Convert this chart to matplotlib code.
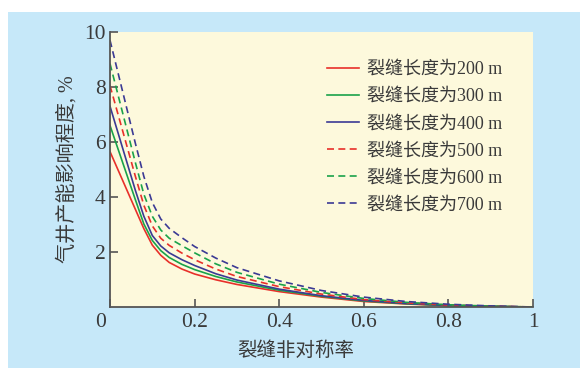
import matplotlib
matplotlib.use("Agg")
import matplotlib.pyplot as plt
import matplotlib.transforms as mtransforms
from matplotlib.patches import Rectangle

# fracture asymmetry ratio
x = [0, 0.02, 0.04, 0.06, 0.08, 0.10, 0.12, 0.14, 0.17, 0.20, 0.25, 0.30,
     0.40, 0.50, 0.60, 0.70, 0.80, 0.90, 1.00]

# gas well productivity impact, %
y200 = [5.65, 4.95, 4.25, 3.55, 2.85, 2.25, 1.88, 1.62, 1.38, 1.2, 0.99, 0.82,
        0.56, 0.36, 0.2, 0.11, 0.05, 0.02, 0.0]
y300 = [6.6, 5.7, 4.8, 3.9, 3.02, 2.42, 2.05, 1.8, 1.55, 1.36, 1.11, 0.91,
        0.61, 0.39, 0.22, 0.12, 0.05, 0.02, 0.0]
y400 = [7.3, 6.28, 5.26, 4.24, 3.3, 2.6, 2.22, 1.97, 1.72, 1.51, 1.21, 0.98,
        0.65, 0.41, 0.24, 0.13, 0.06, 0.02, 0.0]
y500 = [8.05, 6.95, 5.85, 4.75, 3.7, 2.95, 2.5, 2.24, 1.96, 1.72, 1.38, 1.11,
        0.74, 0.47, 0.27, 0.15, 0.07, 0.03, 0.0]
y600 = [8.85, 7.65, 6.45, 5.25, 4.1, 3.3, 2.8, 2.5, 2.23, 1.97, 1.57, 1.26,
        0.83, 0.53, 0.31, 0.17, 0.08, 0.03, 0.0]
y700 = [9.7, 8.45, 7.2, 5.95, 4.75, 3.8, 3.2, 2.86, 2.52, 2.2, 1.78, 1.43,
        0.95, 0.60, 0.36, 0.20, 0.10, 0.04, 0.0]

labels = ["裂缝长度为200 m", "裂缝长度为300 m", "裂缝长度为400 m",
          "裂缝长度为500 m", "裂缝长度为600 m", "裂缝长度为700 m"]
series = [y200, y300, y400, y500, y600, y700]
colors = ["#e8302a", "#1aa24a", "#3b3a94", "#e8302a", "#1aa24a", "#3b3a94"]
dashed = [False, False, False, True, True, True]

xticks = [0, 0.2, 0.4, 0.6, 0.8, 1]
xticklabels = ["0", "0.2", "0.4", "0.6", "0.8", "1"]
yticks = [2, 4, 6, 8, 10]

plt.rcParams['font.family'] = ['Liberation Serif', 'Noto Sans CJK SC']
text_color = "#3a3a3a"

fig = plt.figure(figsize=(5.8, 3.68), dpi=100, facecolor="white")
# light blue panel behind the chart
fig.patches.append(Rectangle((8 / 580, 0), 1, 1 - 12 / 368, transform=fig.transFigure,
                             facecolor="#c6e8f9", edgecolor="none", zorder=-10))

ax = fig.add_axes([110 / 580, 1 - 307 / 368, 423 / 580, 275 / 368])
ax.set_zorder(1)
ax.set_facecolor("#fdf9dc")

for ys, lab, c, d in zip(series, labels, colors, dashed):
    if d:
        ax.plot(x, ys, color=c, lw=1.2, label=lab, dashes=(4.2, 2.6))
    else:
        ax.plot(x, ys, color=c, lw=1.2, label=lab)

ax.set_xlim(0, 1)
ax.set_ylim(0, 10)
ax.set_xticks(xticks)
ax.set_xticklabels(xticklabels)
ax.set_yticks(yticks)

for s in ["top", "right"]:
    ax.spines[s].set_visible(False)
for s in ["left", "bottom"]:
    ax.spines[s].set_color("#555555")
    ax.spines[s].set_linewidth(1.3)

ax.tick_params(direction="in", length=6, width=1.2, color="#555555",
               labelsize=15.5, labelcolor=text_color)
ax.tick_params(axis="x", pad=4)
ax.tick_params(axis="y", pad=3)

# shift the origin label a bit to the left
lbl0 = ax.get_xticklabels()[0]
lbl0.set_transform(lbl0.get_transform() + mtransforms.ScaledTranslation(-9 / 100, 0, fig.dpi_scale_trans))

ax.set_xlabel("裂缝非对称率", fontsize=14, color=text_color)
ax.xaxis.set_label_coords(0.44, -0.125)
ax.set_ylabel("气井产能影响程度, %", fontsize=14.5, color=text_color)
ax.yaxis.set_label_coords(-0.076, 0.5)

leg = ax.legend(loc="upper left", bbox_to_anchor=(327 / 580, 1 - 61 / 368),
                bbox_transform=fig.transFigure, frameon=False, fontsize=13,
                handlelength=1.75, handletextpad=0.45, labelspacing=0.56,
                borderpad=0, borderaxespad=0)
for t in leg.get_texts():
    t.set_color(text_color)

fig.savefig("out.png", dpi=100, facecolor=fig.get_facecolor())
